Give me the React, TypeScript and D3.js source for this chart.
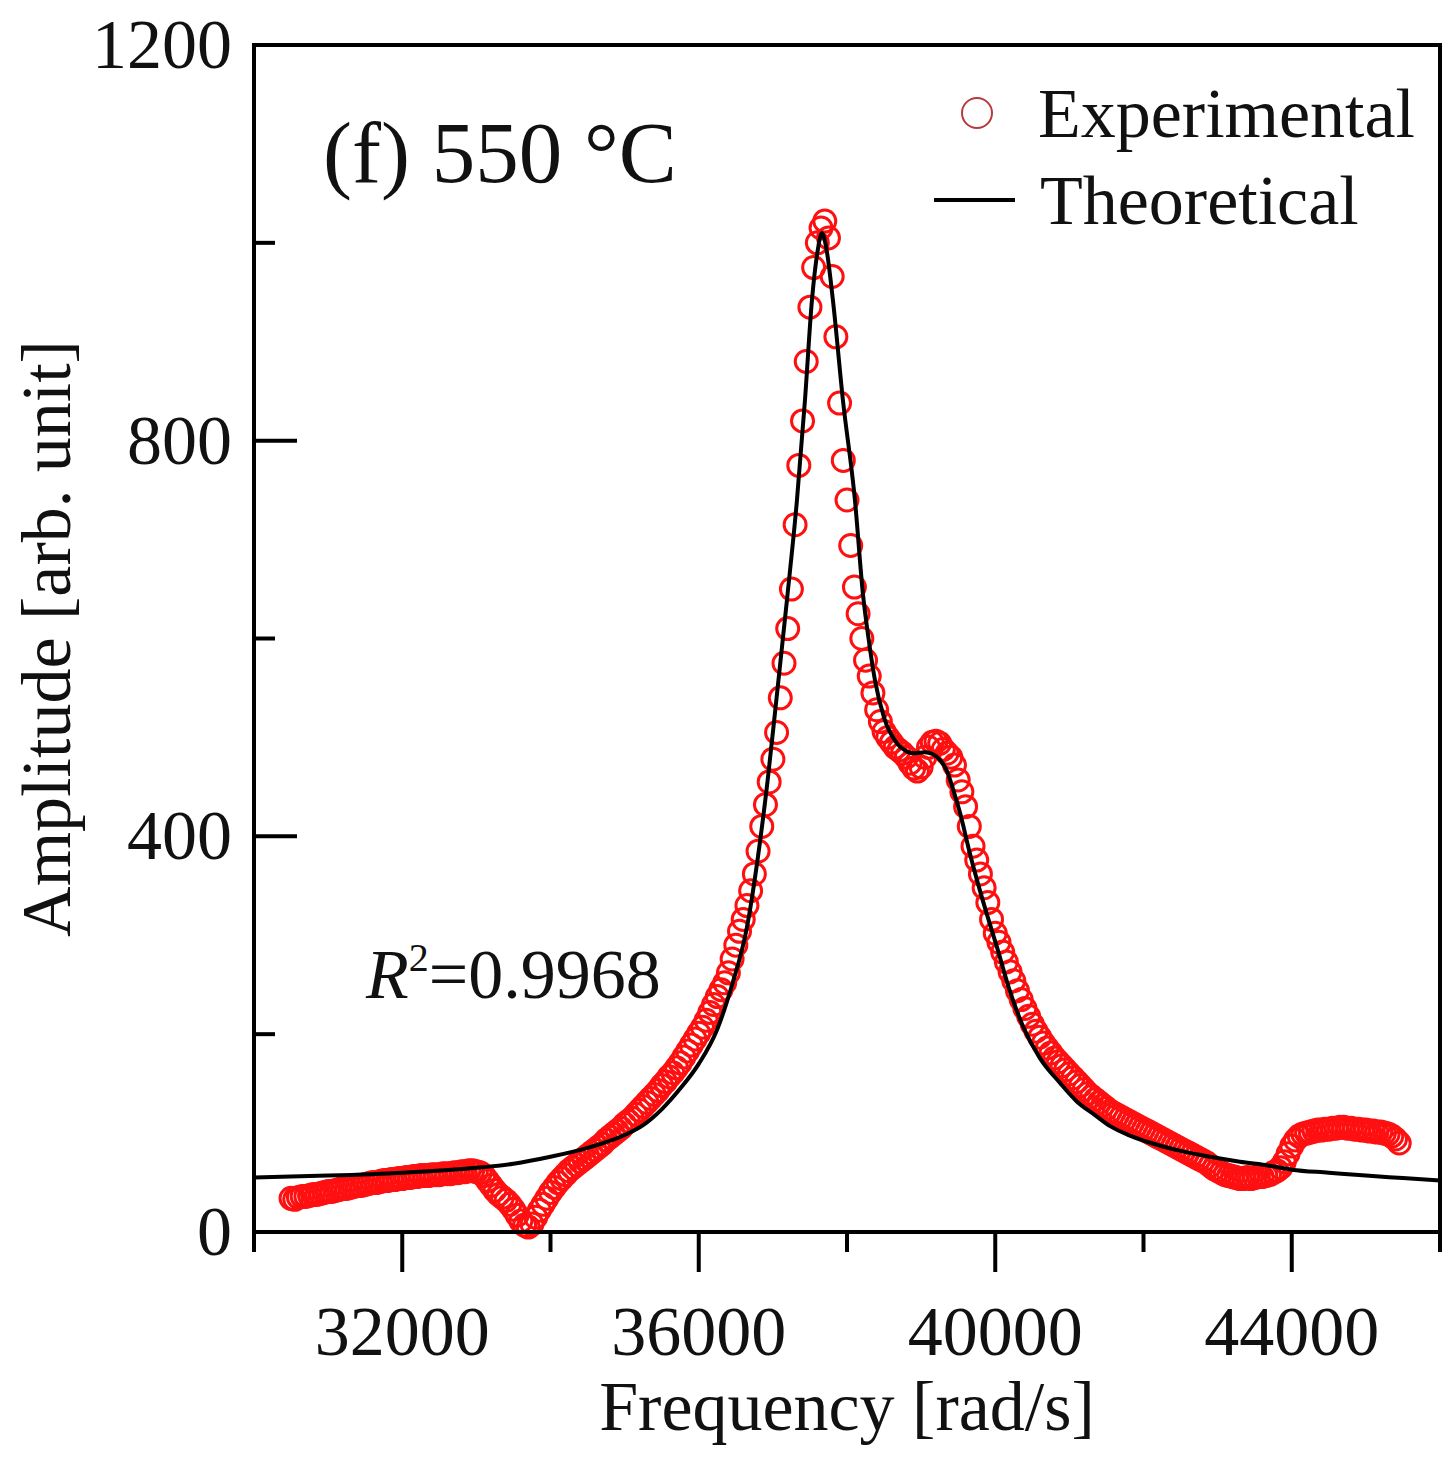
import React from 'react';
import * as d3 from 'd3';

// ---------- data ----------
const xMajorTicks = [32000, 36000, 40000, 44000];
const xMinorTicks = [30000, 34000, 38000, 42000, 46000];
const yMajorTicks = [0, 400, 800, 1200];
const yMinorTicks = [200, 600, 1000];

// measurement sweep: 30500 .. 45450 rad/s, every 50 rad/s
const expFrequencies = d3.range(30500, 45500, 50);
const expAmplitudes = [
  // 30500-30950
  34, 33, 35, 36, 36, 37, 38, 38, 39, 40,
  // 31000-31950
  41, 41, 42, 43, 44, 44, 45, 46, 47, 47, 48, 49, 50, 50, 51, 52, 52, 53, 53, 54,
  // 32000-32950
  54, 55, 55, 56, 56, 57, 57, 57, 58, 58, 58, 59, 59, 59, 60, 60, 61, 61, 62, 62,
  // 33000-33950
  61, 60, 57, 52, 47, 42, 38, 35, 32, 28, 23, 17, 11, 7, 5, 8, 15, 22, 28, 34,
  // 34000-34950
  40, 45, 50, 54, 58, 62, 65, 68, 71, 74, 77, 80, 83, 86, 89, 93, 96, 99, 102, 105,
  // 35000-35950
  109, 112, 115, 119, 123, 127, 131, 135, 139, 143, 148, 152, 157, 161, 166, 171, 177, 183, 189, 195,
  // 36000-36950
  201, 207, 214, 222, 230, 238, 245, 252, 262, 276, 290, 304, 316, 330, 345, 362, 385, 410, 432, 455,
  // 37000-37950
  478, 505, 540, 575, 610, 650, 715, 775, 820, 880, 935, 975, 1000, 1015, 1022, 1005, 966, 905, 838, 780,
  // 38000-38950
  740, 694, 652, 625, 600, 578, 562, 545, 528, 516, 506, 500, 495, 490, 487, 484, 480, 474, 469, 466,
  // 39000-39950
  470, 480, 490, 495, 496, 494, 488, 484, 480, 472, 457, 445, 430, 410, 390, 376, 362, 348, 333, 316,
  // 40000-40950
  302, 293, 283, 273, 263, 254, 244, 235, 226, 218, 210, 203, 197, 191, 186, 181, 176, 172, 168, 164,
  // 41000-41950
  160, 156, 152, 148, 144, 140, 137, 134, 131, 128, 125, 122, 120, 118, 116, 114, 112, 110, 108, 106,
  // 42000-42950
  104, 102, 100, 98, 96, 94, 92, 90, 88, 86, 84, 82, 80, 78, 76, 74, 72, 70, 67, 64,
  // 43000-43950
  62, 60, 58, 57, 56, 55, 54, 54, 55, 54, 55, 56, 56, 57, 58, 60, 62, 65, 71, 79,
  // 44000-44950
  87, 93, 97, 99, 100, 101, 102, 103, 103, 104, 104, 105, 105, 106, 106, 105, 105, 104, 104, 103,
  // 45000-45450
  103, 102, 102, 101, 101, 100, 99, 97, 94, 90,
];

const theoFrequencies = [
  30000, 31000, 32000, 33000, 33500, 34000, 34500, 35000, 35250, 35500, 35750, 36000,
  36250, 36450, 36650, 36800, 36930, 37050, 37190, 37325, 37433, 37527, 37600, 37662,
  37720, 37810, 37945, 38107, 38215, 38300, 38377, 38500, 38674, 38800, 38900, 39050,
  39160, 39260, 39348, 39450, 39524, 39650, 39753, 39900, 40023, 40200, 40374, 40600,
  40870, 41100, 41350, 41550, 41800, 42060, 42500, 42900, 43300, 43700, 44000, 44500,
  45000, 45500, 46000,
];
const theoAmplitudes = [
  55, 57, 60, 65, 69, 76, 85, 98, 108, 124, 145, 170,
  205, 250, 308, 380, 457, 540, 639, 740, 841, 942, 990, 1010,
  995, 942, 841, 740, 645, 595, 558, 520, 494, 486, 484, 485,
  483, 477, 466, 443, 424, 385, 356, 318, 288, 243, 208, 176,
  151, 132, 118, 107, 98, 91, 82, 76, 71, 67, 63, 60,
  57, 54.5, 52,
];

const legendLabels = ['Experimental', 'Theoretical'];

// ---------- layout ----------
const W = 1454;
const H = 1461;
const plotLeft = 254;
const plotRight = 1440;
const plotTop = 45;
const plotBottom = 1232;
const FONT = '"Liberation Serif", "Times New Roman", Times, serif';

export default function App() {
  const x = d3.scaleLinear().domain([30000, 46000]).range([plotLeft, plotRight]);
  const y = d3.scaleLinear().domain([0, 1200]).range([plotBottom, plotTop]);

  const theoPts: [number, number][] = theoFrequencies.map((f, i) => [f, theoAmplitudes[i]]);
  const linePath = d3
    .line<[number, number]>()
    .x((d) => x(d[0]))
    .y((d) => y(d[1]))
    .curve(d3.curveMonotoneX)(theoPts) as string;

  const expPts = expFrequencies.map((f, i) => ({ f, a: expAmplitudes[i] }));

  return (
    <svg
      width={W}
      height={H}
      viewBox={`0 0 ${W} ${H}`}
      style={{ position: 'absolute', left: 0, top: 0, display: 'block', background: '#fff' }}
      fontFamily={FONT}
    >
      <rect x={0} y={0} width={W} height={H} fill="#fff" />
      <defs>
        <clipPath id="plotClip">
          <rect x={plotLeft} y={plotTop} width={plotRight - plotLeft} height={plotBottom - plotTop} />
        </clipPath>
      </defs>

      {/* experimental circles */}
      <g>
        {expPts.map((p, i) => (
          <circle
            key={i}
            cx={x(p.f)}
            cy={y(p.a)}
            r={11}
            fill="none"
            stroke="#ff1010"
            strokeWidth={3}
          />
        ))}
      </g>
      {/* theoretical line */}
      <g clipPath="url(#plotClip)">
        <path d={linePath} fill="none" stroke="#000" strokeWidth={4} />
      </g>

      {/* frame */}
      <rect
        x={plotLeft}
        y={plotTop}
        width={plotRight - plotLeft}
        height={plotBottom - plotTop}
        fill="none"
        stroke="#000"
        strokeWidth={4}
      />

      {/* x ticks */}
      {xMajorTicks.map((t) => (
        <line key={'xM' + t} x1={x(t)} x2={x(t)} y1={plotBottom} y2={plotBottom + 40} stroke="#000" strokeWidth={4} />
      ))}
      {xMinorTicks.map((t) => (
        <line key={'xm' + t} x1={x(t)} x2={x(t)} y1={plotBottom} y2={plotBottom + 20} stroke="#000" strokeWidth={4} />
      ))}
      {xMajorTicks.map((t) => (
        <text key={'xl' + t} x={x(t)} y={1355} fontSize={70} textAnchor="middle" fill="#111">
          {t}
        </text>
      ))}

      {/* y ticks (inward) */}
      {yMajorTicks.map((t) => (
        <line key={'yM' + t} x1={plotLeft} x2={plotLeft + 43} y1={y(t)} y2={y(t)} stroke="#000" strokeWidth={4} />
      ))}
      {yMinorTicks.map((t) => (
        <line key={'ym' + t} x1={plotLeft} x2={plotLeft + 21} y1={y(t)} y2={y(t)} stroke="#000" strokeWidth={4} />
      ))}
      {yMajorTicks.map((t) => (
        <text key={'yl' + t} x={232} y={y(t) + 23} fontSize={70} textAnchor="end" fill="#111">
          {t}
        </text>
      ))}

      {/* axis titles */}
      <text x={(plotLeft + plotRight) / 2} y={1430} fontSize={70} textAnchor="middle" fill="#111">
        Frequency [rad/s]
      </text>
      <text
        transform={`translate(70, ${(plotTop + plotBottom) / 2}) rotate(-90)`}
        fontSize={70}
        textAnchor="middle"
        fill="#111"
      >
        Amplitude [arb. unit]
      </text>

      {/* panel label */}
      <text x={323} y={182} fontSize={87} fill="#111">
        (f) 550 °C
      </text>

      {/* R^2 annotation */}
      <text x={366} y={998} fontSize={70} fill="#111">
        <tspan fontStyle="italic">R</tspan>
        <tspan fontSize={40} dy={-27}>2</tspan>
        <tspan dy={27}>=0.9968</tspan>
      </text>

      {/* legend */}
      <circle cx={977} cy={113} r={15} fill="none" stroke="#b83a3a" strokeWidth={2} />
      <text x={1038} y={137} fontSize={70} fill="#111">
        {legendLabels[0]}
      </text>
      <line x1={934} x2={1015} y1={200} y2={200} stroke="#000" strokeWidth={4} />
      <text x={1040} y={224} fontSize={70} fill="#111">
        {legendLabels[1]}
      </text>
    </svg>
  );
}
